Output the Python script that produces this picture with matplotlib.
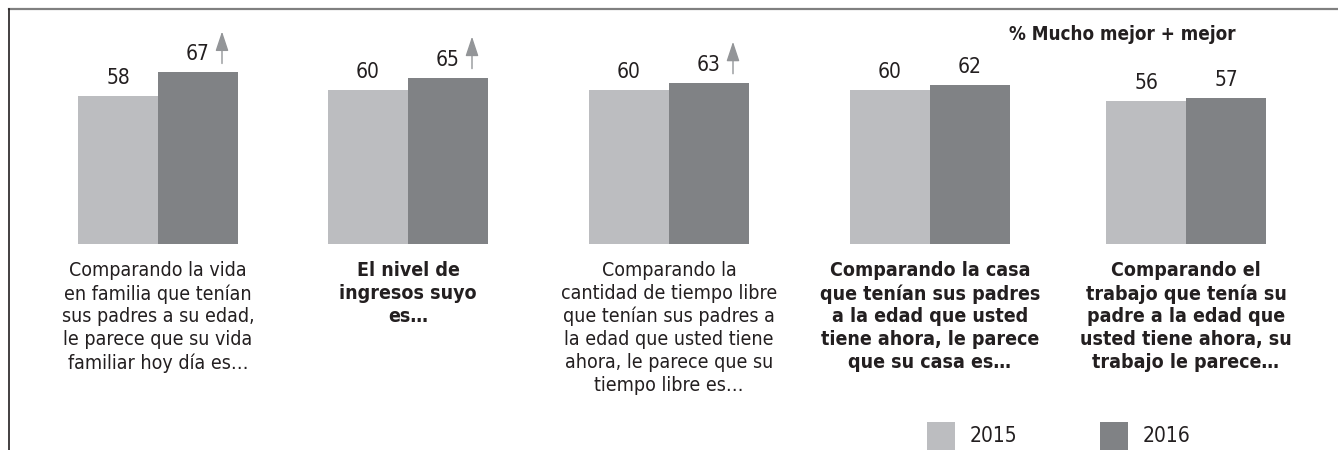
import matplotlib
matplotlib.use("Agg")
import matplotlib.pyplot as plt
from matplotlib.lines import Line2D
from matplotlib.patches import Rectangle

# data
questions = [
    "Comparando la vida\nen familia que tenían\nsus padres a su edad,\nle parece que su vida\nfamiliar hoy día es…",
    "El nivel de\ningresos suyo\nes…",
    "Comparando la\ncantidad de tiempo libre\nque tenían sus padres a\nla edad que usted tiene\nahora, le parece que su\ntiempo libre es…",
    "Comparando la casa\nque tenían sus padres\na la edad que usted\ntiene ahora, le parece\nque su casa es…",
    "Comparando el\ntrabajo que tenía su\npadre a la edad que\nusted tiene ahora, su\ntrabajo le parece…",
]
question_bold = [False, True, False, True, True]
years = ["2015", "2016"]
vals_2015 = [58, 60, 60, 60, 56]
vals_2016 = [67, 65, 63, 62, 57]
rising = [True, True, True, False, False]

# layout (pixel-like x units across the figure width)
W, H = 1338, 450
group_x = [158, 408, 669, 930, 1186]
bar_w = 80
px = 2.56  # pixels per percentage point
light = "#bcbdc0"
dark = "#808285"
txt = "#231f20"

plt.rcParams["font.family"] = ["DejaVu Sans"]
plt.rcParams["font.stretch"] = "condensed"

fig = plt.figure(figsize=(W / 100, H / 100), dpi=100)
ax = fig.add_axes([0, (H - 244) / H, 1, 235 / H])
ax.set_xlim(0, W)
ax.set_ylim(0, 235 / px)
ax.axis("off")

left = [x - bar_w / 2 for x in group_x]
right = [x + bar_w / 2 for x in group_x]
ax.bar(left, vals_2015, width=bar_w, color=light)
ax.bar(right, vals_2016, width=bar_w, color=dark)

for x, v in zip(left + right, vals_2015 + vals_2016):
    ax.annotate(str(v), (x, v), xytext=(0, 8), textcoords="offset pixels",
                ha="center", va="bottom", fontsize=15, color=txt,
                fontstretch="condensed")

# significance arrows above the 2016 bar
for x, v, up in zip(right, vals_2016, rising):
    if not up:
        continue
    ax.annotate("", xy=(x + 24, v + 41 / px), xytext=(x + 24, v + 9 / px),
                arrowprops=dict(arrowstyle="-|>,head_length=0.6,head_width=0.2",
                                mutation_scale=20, color="#939598", lw=1.0,
                                shrinkA=0, shrinkB=0))

for x, q, bold in zip(group_x, questions, question_bold):
    ax.annotate(q, (x, 0), xytext=(0, -17), textcoords="offset pixels",
                ha="center", va="top", fontsize=14, color=txt,
                fontweight="bold" if bold else "normal", linespacing=1.26,
                fontstretch="condensed", annotation_clip=False)

fig.text(1236 / W, 1 - 35 / H, "% Mucho mejor + mejor", ha="right", va="center",
         fontsize=13.5, fontweight="bold", color=txt, fontstretch="condensed")

# frame lines
fig.add_artist(Line2D([9 / W, 1], [1 - 9 / H, 1 - 9 / H], transform=fig.transFigure,
                      color="#808080", lw=1.6))
fig.add_artist(Line2D([9 / W, 9 / W], [0, 1 - 9 / H], transform=fig.transFigure,
                      color="#231f20", lw=1.2))

# legend
for sx, c, y in zip([927, 1100], [light, dark], years):
    fig.add_artist(Rectangle((sx / W, 0), 28 / W, 28 / H, transform=fig.transFigure,
                             color=c, lw=0))
    fig.text((sx + 43) / W, 1 - 436 / H, y, ha="left", va="center", fontsize=15,
             color=txt, fontstretch="condensed")

fig.savefig("out.png", dpi=100)
